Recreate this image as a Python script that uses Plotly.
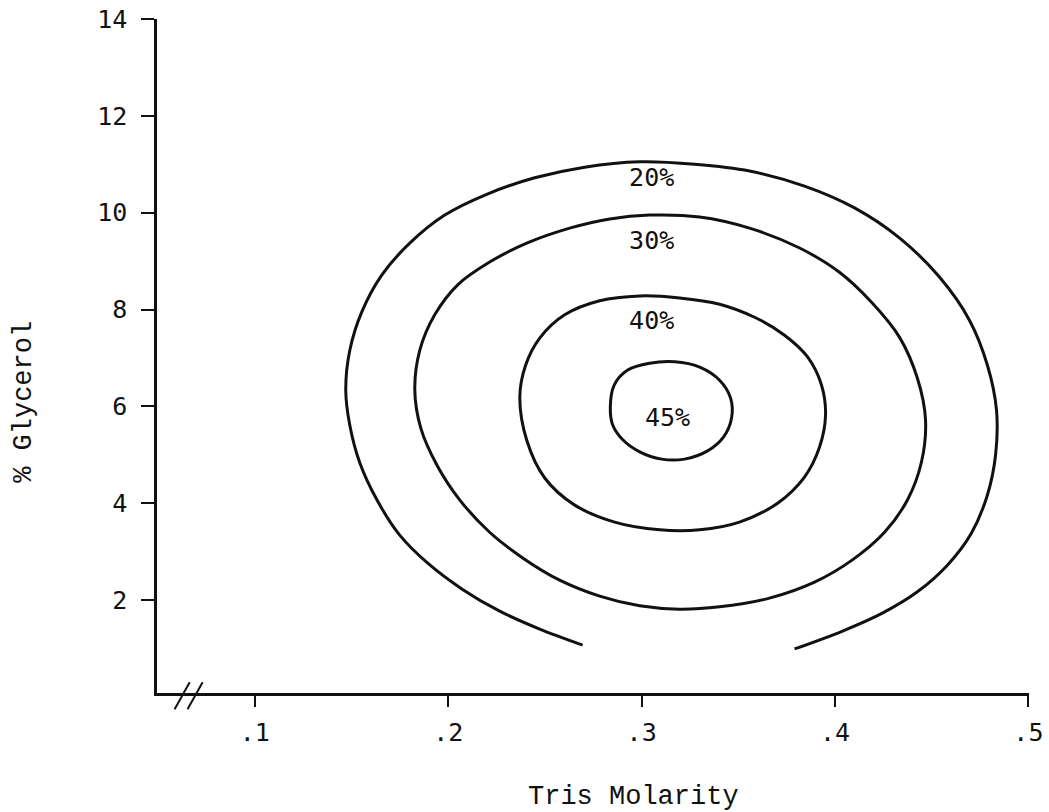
import plotly.graph_objects as go

# Contour lines (x = Tris molarity, y = % glycerol)
x20 = [0.2695, 0.2473, 0.2266, 0.2070, 0.1894, 0.1749, 0.1631, 0.1543, 0.1491, 0.1470, 0.1491,
       0.1553, 0.1656, 0.1801, 0.1982, 0.2199, 0.2447, 0.2705, 0.2990, 0.3274, 0.3558, 0.3842,
       0.4101, 0.4333, 0.4540, 0.4695, 0.4788, 0.4835, 0.4830, 0.4788, 0.4705, 0.4581, 0.4426,
       0.4245, 0.4039, 0.3791]
y20 = [1.07, 1.40, 1.77, 2.23, 2.76, 3.34, 4.07, 4.83, 5.61, 6.34, 7.16,
       7.95, 8.71, 9.37, 9.95, 10.38, 10.72, 10.94, 11.05, 11.00, 10.86, 10.55,
       10.10, 9.48, 8.67, 7.78, 6.85, 5.92, 4.99, 4.17, 3.38, 2.72, 2.17,
       1.73, 1.36, 0.99]

x30 = [0.3041, 0.3300, 0.3558, 0.3817, 0.4023, 0.4189, 0.4333, 0.4426, 0.4468, 0.4447, 0.4375,
       0.4256, 0.4090, 0.3894, 0.3661, 0.3403, 0.3196, 0.2990, 0.2783, 0.2576, 0.2385, 0.2214,
       0.2059, 0.1941, 0.1858, 0.1827, 0.1853, 0.1930, 0.2049, 0.2214, 0.2406, 0.2628, 0.2835,
       0.3041]
y30 = [9.95, 9.91, 9.68, 9.27, 8.77, 8.15, 7.43, 6.58, 5.72, 4.85, 4.07,
       3.40, 2.83, 2.37, 2.04, 1.86, 1.81, 1.88, 2.08, 2.41, 2.87, 3.40,
       4.07, 4.79, 5.55, 6.34, 7.16, 7.89, 8.51, 8.98, 9.37, 9.68, 9.87,
       9.95]

x40 = [0.2990, 0.3196, 0.3403, 0.3584, 0.3739, 0.3858, 0.3930, 0.3951, 0.3920, 0.3842, 0.3703,
       0.3506, 0.3300, 0.3093, 0.2860, 0.2654, 0.2499, 0.2406, 0.2370, 0.2400, 0.2473, 0.2602,
       0.2783, 0.2990]
y40 = [8.28, 8.24, 8.11, 7.84, 7.47, 7.02, 6.44, 5.82, 5.16, 4.54, 4.00,
       3.61, 3.45, 3.45, 3.61, 3.96, 4.52, 5.30, 6.19, 6.85, 7.41, 7.89,
       8.18, 8.28]

x45 = [0.3041, 0.3171, 0.3300, 0.3403, 0.3460, 0.3465, 0.3424, 0.3341, 0.3222, 0.3103, 0.2990,
       0.2900, 0.2850, 0.2838, 0.2858, 0.2928, 0.3041]
y45 = [6.89, 6.92, 6.81, 6.54, 6.17, 5.76, 5.37, 5.08, 4.91, 4.91, 5.06,
       5.32, 5.62, 5.98, 6.44, 6.75, 6.89]

contour_labels = ["20%", "30%", "40%", "45%"]
label_x = [0.3052, 0.3052, 0.3052, 0.3134]
label_y = [10.67, 9.37, 7.72, 5.72]

x_ticks = [0.1, 0.2, 0.3, 0.4, 0.5]
x_ticktext = [".1", ".2", ".3", ".4", ".5"]
y_ticks = [2, 4, 6, 8, 10, 12, 14]

INK = "#111111"
fig = go.Figure()
for xs, ys in [(x20, y20), (x30, y30), (x40, y40), (x45, y45)]:
    fig.add_trace(go.Scatter(x=xs, y=ys, mode="lines",
                             line=dict(color=INK, width=3, shape="spline", smoothing=1.0),
                             showlegend=False, hoverinfo="skip"))

fig.add_trace(go.Scatter(x=label_x, y=label_y, mode="text", text=contour_labels,
                         textfont=dict(family="DejaVu Sans Mono", size=25, color=INK),
                         showlegend=False, hoverinfo="skip"))

# axis break marks "//" on the x axis
for x0 in [0.0585, 0.0652]:
    fig.add_shape(type="line", xref="x", yref="paper",
                  x0=x0, x1=x0 + 0.0078, y0=-0.024, y1=0.016,
                  line=dict(color=INK, width=2))

# axis titles
fig.add_annotation(text="Tris Molarity", xref="paper", yref="paper",
                   x=0.546, y=-0.154, xanchor="center", yanchor="middle", showarrow=False,
                   font=dict(family="Liberation Mono", size=27, color=INK))
fig.add_annotation(text="% Glycerol", xref="paper", yref="paper", textangle=-90,
                   x=-0.1525, y=0.432, xanchor="center", yanchor="middle", showarrow=False,
                   font=dict(family="Liberation Mono", size=27, color=INK))

fig.update_layout(
    width=1049, height=812,
    margin=dict(l=157, r=20, t=19, b=119),
    paper_bgcolor="white", plot_bgcolor="white",
    font=dict(family="DejaVu Sans Mono", color=INK),
    xaxis=dict(range=[0.0494, 0.5003], tickvals=x_ticks, ticktext=x_ticktext,
               automargin=False,
               showgrid=False, zeroline=False, showline=True, linecolor=INK, linewidth=2.5,
               ticks="outside", ticklen=11, tickwidth=2, tickcolor=INK,
               tickfont=dict(family="DejaVu Sans Mono", size=25),
               ticklabelstandoff=4),
    yaxis=dict(range=[0.08, 14.0], tickvals=y_ticks, automargin=False,
               showgrid=False, zeroline=False, showline=True, linecolor=INK, linewidth=2.5,
               ticks="outside", ticklen=13, tickwidth=2, tickcolor=INK,
               tickfont=dict(family="DejaVu Sans Mono", size=25),
               ticklabelstandoff=9),
)

fig.write_html("out.html")
